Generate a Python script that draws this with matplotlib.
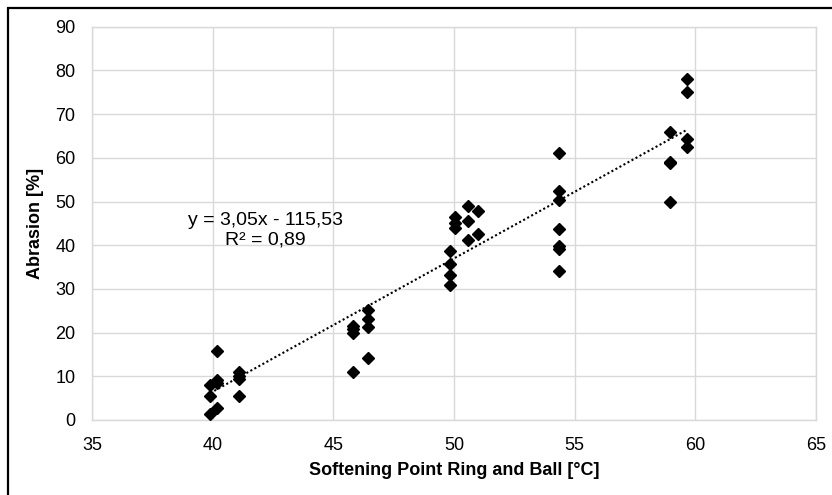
import matplotlib
matplotlib.use("Agg")
import matplotlib.pyplot as plt
import numpy as np
from matplotlib.patches import Rectangle

plt.rcParams['font.family'] = ['Liberation Sans', 'DejaVu Sans']

# Data
softening_point = [40.2, 40.2, 40.2, 39.9, 39.9, 40.2, 39.9,
                   41.1, 41.1, 41.1, 41.1,
                   45.8, 45.8, 45.8, 45.8,
                   46.45, 46.45, 46.45, 46.45,
                   49.85, 49.85, 49.85, 49.85,
                   50.05, 50.05, 50.05,
                   50.6, 50.6, 50.6,
                   51.0, 51.0,
                   54.35, 54.35, 54.35, 54.35, 54.35, 54.35, 54.35,
                   58.95, 58.95, 58.95, 58.95,
                   59.65, 59.65, 59.65, 59.65]
abrasion = [15.8, 9.2, 8.4, 7.9, 5.6, 2.8, 1.4,
            10.9, 10.0, 9.4, 5.5,
            21.6, 20.8, 20.0, 11.0,
            25.2, 23.2, 21.2, 14.2,
            38.6, 35.8, 33.1, 31.0,
            46.5, 45.0, 43.9,
            49.0, 45.6, 41.2,
            47.9, 42.5,
            61.2, 52.5, 50.4, 43.7, 39.8, 39.1, 34.2,
            65.9, 59.1, 58.7, 49.9,
            78.0, 75.0, 64.2, 62.4]

slope = 3.05
intercept = -115.53
equation_text = "y = 3,05x - 115,53\nR² = 0,89"
x_label = "Softening Point Ring and Ball [°C]"
y_label = "Abrasion [%]"
x_ticks = [35, 40, 45, 50, 55, 60, 65]
y_ticks = [0, 10, 20, 30, 40, 50, 60, 70, 80, 90]

fig = plt.figure(figsize=(8.32, 4.95), dpi=100)
ax = fig.add_axes([92/832, 75/495, (816-92)/832, (420-26.7)/495])

grid_col = '#d9d9d9'
ax.set_xlim(35, 65)
ax.set_ylim(0, 90)
ax.set_xticks(x_ticks)
ax.set_yticks(y_ticks)
ax.grid(True, color=grid_col, linewidth=1.0)
ax.set_axisbelow(True)
for s in ax.spines.values():
    s.set_color(grid_col)
    s.set_linewidth(1.0)
ax.tick_params(length=0, labelsize=13, pad=12, colors='#000000')

xs = np.array(softening_point)
xl = np.array([xs.min(), xs.max()])
ax.plot(xl, slope * xl + intercept, color='black', linestyle=(0, (1, 1.2)), linewidth=1.5, zorder=3)
ax.plot(softening_point, abrasion, linestyle='none', marker='D', markersize=5.8,
        color='black', zorder=4)

ax.text(42.2, 43.4, equation_text, ha='center', va='center', fontsize=14,
        linespacing=1.18, multialignment='center')

ax.set_xlabel(x_label, fontsize=13, fontweight='bold', labelpad=6)
ax.set_ylabel(y_label, fontsize=13, fontweight='bold', labelpad=8)

fig.patches.append(Rectangle((8/832, -20/495), 900/832, (487+20)/495,
                             transform=fig.transFigure, fill=False,
                             edgecolor='black', linewidth=1.6))

fig.savefig("out.png", dpi=100)
